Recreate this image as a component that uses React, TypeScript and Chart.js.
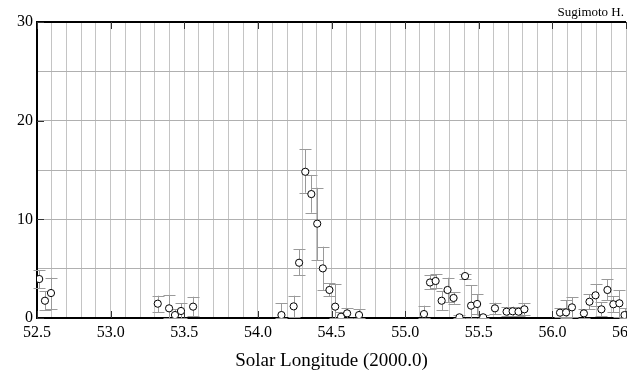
import React, { useEffect, useRef } from "react";
import { Chart, registerables } from "chart.js";

Chart.register(...registerables);

const solarLongitude = [
  52.515, 52.554, 52.595, 53.32, 53.397, 53.437, 53.478, 53.56,
  54.16, 54.243, 54.28, 54.322, 54.363, 54.403, 54.441, 54.486, 54.525, 54.565, 54.606, 54.687,
  55.128, 55.169, 55.207, 55.248, 55.288, 55.329, 55.369, 55.407, 55.448, 55.489, 55.53,
  55.61, 55.689, 55.73, 55.77, 55.81,
  56.052, 56.093, 56.133, 56.214, 56.252, 56.293, 56.333, 56.374, 56.414, 56.455, 56.49,
];
const rate = [
  3.95, 1.75, 2.53, 1.45, 0.98, 0.3, 0.71, 1.15,
  0.3, 1.18, 5.6, 14.82, 12.56, 9.56, 5.03, 2.84, 1.15, 0.13, 0.47, 0.3,
  0.4, 3.6, 3.75, 1.75, 2.84, 2.03, 0.07, 4.25, 1.25, 1.42, 0.07,
  0.98, 0.64, 0.68, 0.64, 0.88,
  0.54, 0.57, 1.08, 0.47, 1.65, 2.3, 0.88, 2.84, 1.39, 1.49, 0.3,
];
const rateLow = [
  3.0, 0.8, 0.91, 0.57, 0.0, 0.0, 0.0, 0.2,
  0.0, 0.1, 4.36, 12.7, 10.67, 5.88, 2.84, 2.2, 0.0, 0.0, 0.0, 0.0,
  0.0, 2.94, 3.0, 0.81, 1.6, 1.45, 0.0, 4.0, 0.0, 0.4, 0.0,
  0.4, 0.2, 0.2, 0.2, 0.3,
  0.1, 0.0, 0.1, 0.0, 0.9, 1.2, 0.2, 1.8, 0.6, 0.1, 0.0,
];
const rateHigh = [
  4.86, 2.7, 4.08, 2.26, 2.33, 0.9, 1.49, 2.16,
  1.49, 2.26, 6.96, 17.1, 14.5, 13.2, 7.23, 3.5, 3.4, 0.6, 0.98, 0.88,
  1.25, 4.36, 4.46, 2.7, 4.08, 2.6, 0.3, 4.5, 3.3, 2.4, 0.3,
  1.55, 1.1, 1.15, 1.1, 1.49,
  1.0, 1.8, 2.1, 0.9, 2.4, 3.41, 1.6, 3.92, 2.2, 2.84, 1.0,
];
const xMin = 52.5;
const xMax = 56.5;
const yMin = 0;
const yMax = 30;
const yLabelValues = [0, 10, 20, 30];
const xTitle = "Solar Longitude (2000.0)";
const credit = "Sugimoto H.";

const SERIF = "'Liberation Serif', 'DejaVu Serif', serif";

const errorBarPlugin = {
  id: "errorBars",
  beforeDatasetsDraw(chart: any) {
    const { ctx, scales } = chart;
    const xs = scales.x;
    const ys = scales.y;
    ctx.save();
    ctx.strokeStyle = "#9a9a9a";
    ctx.lineWidth = 1;
    for (let i = 0; i < solarLongitude.length; i++) {
      const px = Math.round(xs.getPixelForValue(solarLongitude[i])) + 0.5;
      const pLo = ys.getPixelForValue(rateLow[i]);
      const pHi = ys.getPixelForValue(rateHigh[i]);
      ctx.beginPath();
      ctx.moveTo(px, pLo);
      ctx.lineTo(px, pHi);
      ctx.moveTo(px - 6, Math.round(pHi) + 0.5);
      ctx.lineTo(px + 6, Math.round(pHi) + 0.5);
      ctx.moveTo(px - 6, Math.round(pLo) + 0.5);
      ctx.lineTo(px + 6, Math.round(pLo) + 0.5);
      ctx.stroke();
    }
    ctx.restore();
  },
};

const framePlugin = {
  id: "frame",
  afterDraw(chart: any) {
    const { ctx, chartArea, scales } = chart;
    const xs = scales.x;
    const ys = scales.y;
    ctx.save();
    ctx.strokeStyle = "#000";
    ctx.lineWidth = 2;
    ctx.beginPath();
    ctx.moveTo(chartArea.left - 1, chartArea.top);
    ctx.lineTo(chartArea.right, chartArea.top);
    ctx.stroke();
    ctx.lineWidth = 1;
    ctx.strokeStyle = "#333";
    ctx.beginPath();
    for (let v = xMin; v <= xMax + 1e-9; v += 0.5) {
      const px = Math.round(xs.getPixelForValue(v)) + 0.5;
      ctx.moveTo(px, chartArea.bottom);
      ctx.lineTo(px, chartArea.bottom - 7);
      ctx.moveTo(px, chartArea.top);
      ctx.lineTo(px, chartArea.top + 7);
    }
    for (const v of yLabelValues) {
      const py = Math.round(ys.getPixelForValue(v)) + 0.5;
      ctx.moveTo(chartArea.left, py);
      ctx.lineTo(chartArea.left + 7, py);
    }
    ctx.stroke();
    ctx.fillStyle = "#000";
    ctx.font = "13px " + SERIF;
    ctx.textAlign = "right";
    ctx.textBaseline = "middle";
    ctx.fillText(credit, 624, 13);
    ctx.restore();
  },
};

export default function App() {
  const ref = useRef<HTMLCanvasElement>(null);
  useEffect(() => {
    document.body.style.margin = "0";
    document.body.style.overflow = "hidden";
    const chart = new Chart(ref.current as HTMLCanvasElement, {
      type: "scatter",
      data: {
        datasets: [
          {
            data: solarLongitude.map((x, i) => ({ x, y: rate[i] })),
            pointRadius: 3.6,
            pointBackgroundColor: "#fff",
            pointBorderColor: "#000",
            pointBorderWidth: 1,
            showLine: false,
          },
        ],
      },
      options: {
        animation: false,
        responsive: true,
        maintainAspectRatio: false,
        layout: { padding: { left: 13, right: 16, top: 22, bottom: 4 } },
        plugins: {
          legend: { display: false },
          tooltip: { enabled: false },
        },
        scales: {
          x: {
            type: "linear",
            min: xMin,
            max: xMax,
            border: { color: "#000", width: 2 },
            grid: { color: "#c4c4c4", lineWidth: 1, drawTicks: false },
            ticks: {
              stepSize: 0.1,
              autoSkip: false,
              maxRotation: 0,
              padding: 5,
              color: "#000",
              font: { family: SERIF, size: 16 },
              callback: (v: any) => {
                const n = Number(v);
                return Math.abs(n * 2 - Math.round(n * 2)) < 1e-6 ? n.toFixed(1) : "";
              },
            },
            title: {
              display: true,
              text: xTitle,
              color: "#000",
              font: { family: SERIF, size: 19 },
              padding: { top: 2, bottom: 0 },
            },
          },
          y: {
            type: "linear",
            min: yMin,
            max: yMax,
            border: { color: "#000", width: 2 },
            grid: { color: "#b0b0b0", lineWidth: 1, drawTicks: false },
            ticks: {
              stepSize: 5,
              padding: 4,
              color: "#000",
              font: { family: SERIF, size: 16 },
              callback: (v: any) => (yLabelValues.includes(Number(v)) ? String(v) : ""),
            },
          },
        },
      },
      plugins: [errorBarPlugin, framePlugin],
    });
    return () => chart.destroy();
  }, []);
  return (
    <div style={{ position: "fixed", left: 0, top: 0, width: 627, height: 376, overflow: "hidden" }}>
      <div style={{ position: "absolute", left: 0, top: 0, width: 645, height: 376 }}>
        <canvas ref={ref} />
      </div>
    </div>
  );
}
